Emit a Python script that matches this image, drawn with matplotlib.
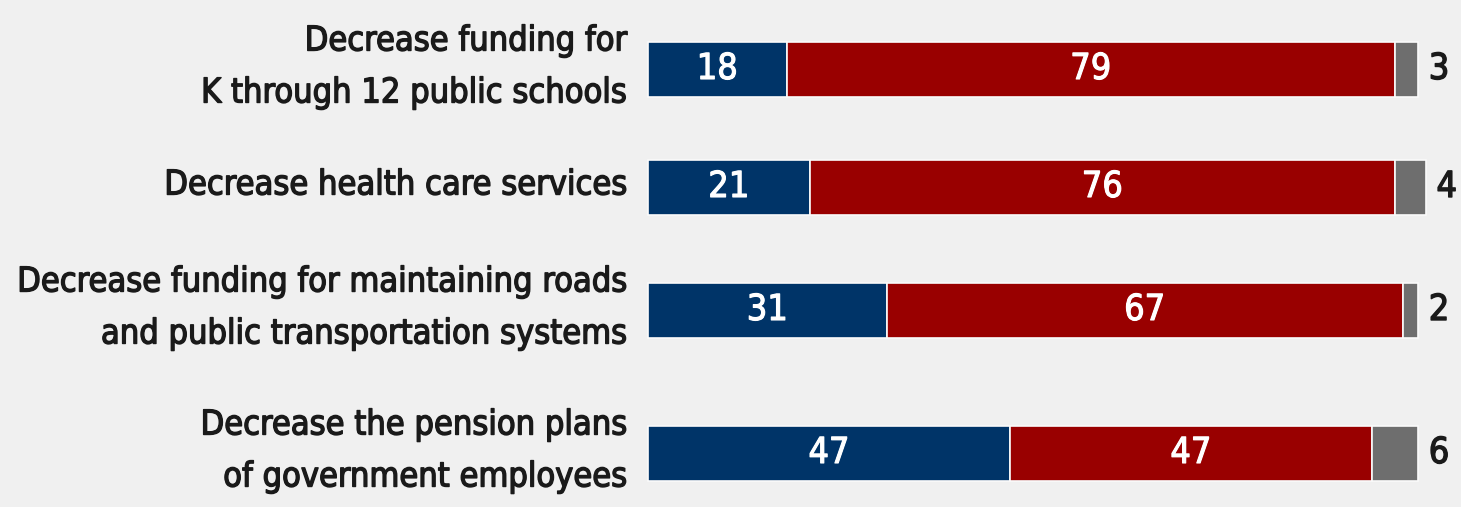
import matplotlib
matplotlib.use("Agg")
import matplotlib.pyplot as plt
import matplotlib.patheffects as pe
from matplotlib.font_manager import FontProperties

categories = [
    "Decrease funding for\nK through 12 public schools",
    "Decrease health care services",
    "Decrease funding for maintaining roads\nand public transportation systems",
    "Decrease the pension plans\nof government employees",
]
favor = [18, 21, 31, 47]
oppose = [79, 76, 67, 47]
dk = [3, 4, 2, 6]

# layout (pixel rows)
row_pos = [69, 187, 310, 453]
bar_h = 55

plt.rcParams['font.family'] = ["DejaVu Sans"]

W, H = 1461, 507
fig = plt.figure(figsize=(W / 100, H / 100), dpi=100)
fig.patch.set_facecolor("#f0f0f0")
ax = fig.add_axes([648 / W, 0, 770 / W, 1])
ax.set_facecolor("#f0f0f0")
ax.set_xlim(0, 100)
ax.set_ylim(H, 0)
ax.axis("off")

renderer = fig.canvas.get_renderer()
tkw = dict(fontstretch="condensed", fontweight="normal")
probe = fig.text(0, 0, "Decrease funding for maintaining roads", fontsize=20, **tkw)
w = probe.get_window_extent(renderer).width
probe.remove()
lab_fs = 20 * 610 / w

fp = FontProperties(family="DejaVu Sans", stretch="condensed", size=lab_fs)
lw, lh, ld = renderer.get_text_width_height_descent("lp", fp, ismath=False)
line_sp = 45 / (lh - ld)

dark = "#1a1a1a"
thick_dark = [pe.withStroke(linewidth=1.0, foreground=dark)]
thick_white = [pe.withStroke(linewidth=0.8, foreground="white")]

blue, red, gray = "#003468", "#990000", "#6e6e6e"
num_fs = lab_fs * 1.05
for y, a, b, c, lab in zip(row_pos, favor, oppose, dk, categories):
    kw = dict(height=bar_h, edgecolor="#fafafa", linewidth=1.2, clip_on=False)
    ax.barh(y, a, left=0, color=blue, **kw)
    ax.barh(y, b, left=a, color=red, **kw)
    ax.barh(y, c, left=a + b, color=gray, **kw)
    ax.text(a / 2, y, str(a), color="white", ha="center", va="center",
            fontsize=num_fs, path_effects=thick_white, **tkw)
    ax.text(a + b / 2, y, str(b), color="white", ha="center", va="center",
            fontsize=num_fs, path_effects=thick_white, **tkw)
    ax.text(a + b + c + 1.4, y, str(c), color=dark, ha="left", va="center",
            fontsize=num_fs, path_effects=thick_dark, **tkw)
    ax.text(-2.7, y - 2, lab, color=dark, ha="right", va="center", fontsize=lab_fs,
            linespacing=line_sp, path_effects=thick_dark, **tkw)

fig.savefig("out.png", dpi=100, facecolor=fig.get_facecolor())
